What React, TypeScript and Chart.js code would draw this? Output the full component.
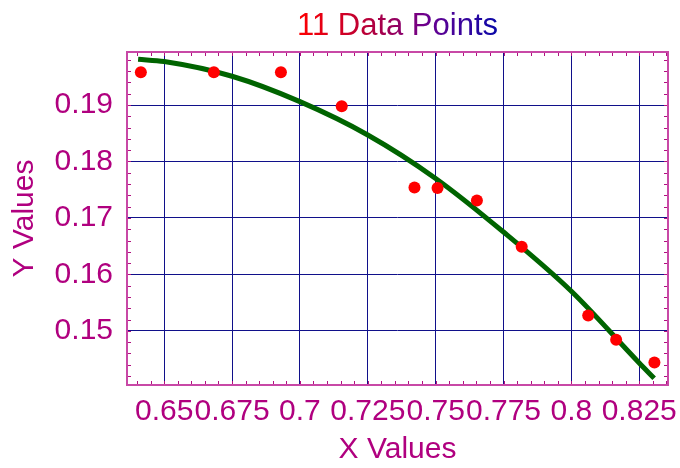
import React, { useEffect, useRef } from "react";
import { Chart, registerables } from "chart.js";

Chart.register(...registerables);

// ---- Text ----
const TITLE = "11 Data Points";
const X_TITLE = "X Values";
const Y_TITLE = "Y Values";

// ---- Data points (red dots) ----
const pointX = [0.6414, 0.6683, 0.693, 0.7154, 0.7422, 0.7507, 0.7652, 0.7817, 0.8062, 0.8165, 0.8306];
const pointY = [0.1958, 0.1958, 0.1958, 0.1898, 0.1754, 0.1753, 0.1731, 0.1649, 0.1527, 0.1484, 0.1444];

// ---- Fitted curve (green) ----
const curveX = [0.6404, 0.65, 0.675, 0.7, 0.725, 0.75, 0.775, 0.8, 0.825, 0.8305];
const curveY = [0.1981, 0.1977, 0.1951, 0.1906, 0.1847, 0.177, 0.1675, 0.157, 0.1443, 0.1416];

// ---- Axes ----
const xTicks = [0.65, 0.675, 0.7, 0.725, 0.75, 0.775, 0.8, 0.825];
const xTickLabels = ["0.65", "0.675", "0.7", "0.725", "0.75", "0.775", "0.8", "0.825"];
const yTicks = [0.15, 0.16, 0.17, 0.18, 0.19];
const yTickLabels = ["0.15", "0.16", "0.17", "0.18", "0.19"];
const xRange = [0.6363, 0.8356];
const yRange = [0.1404, 0.1994];
const xMinorStep = 0.005;
const yMinorStep = 0.002;

// ---- Styles ----
const FONT_FAMILY = '"Liberation Sans", Arial, Helvetica, sans-serif';
const LABEL_COLOR = "#B0007F";
const FRAME_COLOR = "#C848A6";
const TICK_COLOR = "#B0107F";
const GRID_COLOR = "#10108A";

const framePlugin = {
  id: "frameAndTitle",
  afterDraw(chart: any) {
    const { ctx, chartArea: a, scales } = chart;
    const xs = scales.x;
    const ys = scales.y;
    ctx.save();

    // minor ticks pointing inward on all four sides
    ctx.strokeStyle = TICK_COLOR;
    ctx.lineWidth = 1;
    ctx.beginPath();
    const tl = 4;
    for (let i = Math.ceil(xs.min / xMinorStep - 1e-9); i * xMinorStep <= xs.max + 1e-9; i++) {
      const px = Math.round(xs.getPixelForValue(i * xMinorStep)) + 0.5;
      ctx.moveTo(px, a.top);
      ctx.lineTo(px, a.top + tl);
      ctx.moveTo(px, a.bottom);
      ctx.lineTo(px, a.bottom - tl);
    }
    for (let i = Math.ceil(ys.min / yMinorStep - 1e-9); i * yMinorStep <= ys.max + 1e-9; i++) {
      const py = Math.round(ys.getPixelForValue(i * yMinorStep)) + 0.5;
      ctx.moveTo(a.left, py);
      ctx.lineTo(a.left + tl, py);
      ctx.moveTo(a.right, py);
      ctx.lineTo(a.right - tl, py);
    }
    ctx.stroke();

    // frame
    ctx.strokeStyle = FRAME_COLOR;
    ctx.lineWidth = 2;
    ctx.strokeRect(a.left, a.top, a.right - a.left, a.bottom - a.top);

    // title with red -> blue gradient
    ctx.font = `31px ${FONT_FAMILY}`;
    const cx = (a.left + a.right) / 2;
    const w = ctx.measureText(TITLE).width;
    const g = ctx.createLinearGradient(cx - w / 2, 0, cx + w / 2, 0);
    g.addColorStop(0, "#FF0000");
    g.addColorStop(0.35, "#B80038");
    g.addColorStop(0.65, "#6A0090");
    g.addColorStop(1, "#0808A8");
    ctx.fillStyle = g;
    ctx.textAlign = "center";
    ctx.textBaseline = "alphabetic";
    ctx.fillText(TITLE, cx, a.top - 17);
    ctx.restore();
  },
};

export default function App() {
  const ref = useRef<HTMLCanvasElement>(null);

  useEffect(() => {
    const canvas = ref.current;
    if (!canvas) return;
    const font = { family: FONT_FAMILY, size: 30 };
    const chart = new Chart(canvas, {
      type: "scatter",
      data: {
        datasets: [
          {
            label: "Data",
            data: pointX.map((x, i) => ({ x, y: pointY[i] })),
            backgroundColor: "#FF0000",
            borderColor: "#FF0000",
            borderWidth: 0,
            pointRadius: 6,
            pointHoverRadius: 6,
            order: 0,
          },
          {
            label: "Fit",
            data: curveX.map((x, i) => ({ x, y: curveY[i] })),
            showLine: true,
            borderColor: "#006400",
            backgroundColor: "#006400",
            borderWidth: 5,
            pointRadius: 0,
            pointHoverRadius: 0,
            cubicInterpolationMode: "monotone",
            fill: false,
            order: 1,
          } as any,
        ],
      },
      options: {
        animation: false,
        responsive: false,
        devicePixelRatio: 1,
        events: [],
        layout: { padding: { top: 52, right: 12, left: 0, bottom: 0 } },
        plugins: {
          legend: { display: false },
          tooltip: { enabled: false },
          title: { display: false },
        },
        scales: {
          x: {
            type: "linear",
            min: xRange[0],
            max: xRange[1],
            afterBuildTicks: (s: any) => {
              s.ticks = xTicks.map((v) => ({ value: v }));
            },
            afterFit: (s: any) => {
              s.height = 83;
              s.paddingLeft = 0;
              s.paddingRight = 0;
            },
            ticks: {
              autoSkip: false,
              maxRotation: 0,
              minRotation: 0,
              padding: 9,
              color: LABEL_COLOR,
              font,
              callback: (_v: any, i: number) => xTickLabels[i],
            },
            grid: { color: GRID_COLOR, lineWidth: 1, drawTicks: false },
            border: { display: false },
            title: {
              display: true,
              text: X_TITLE,
              color: LABEL_COLOR,
              font,
              padding: { top: 0, bottom: 0 },
            },
          },
          y: {
            type: "linear",
            min: yRange[0],
            max: yRange[1],
            afterBuildTicks: (s: any) => {
              s.ticks = yTicks.map((v) => ({ value: v }));
            },
            afterFit: (s: any) => {
              s.width = 127;
              s.paddingTop = 0;
              s.paddingBottom = 0;
            },
            ticks: {
              autoSkip: false,
              padding: 14,
              color: LABEL_COLOR,
              font,
              callback: (_v: any, i: number) => yTickLabels[i],
            },
            grid: { color: GRID_COLOR, lineWidth: 1, drawTicks: false },
            border: { display: false },
            title: {
              display: true,
              text: Y_TITLE,
              color: LABEL_COLOR,
              font,
              padding: { top: 7, bottom: 0 },
            },
          },
        },
      } as any,
      plugins: [framePlugin],
    });
    return () => chart.destroy();
  }, []);

  return (
    <div style={{ position: "fixed", left: 0, top: 0, width: 680, height: 468, background: "#ffffff" }}>
      <canvas ref={ref} width={680} height={468} style={{ display: "block" }} />
    </div>
  );
}
